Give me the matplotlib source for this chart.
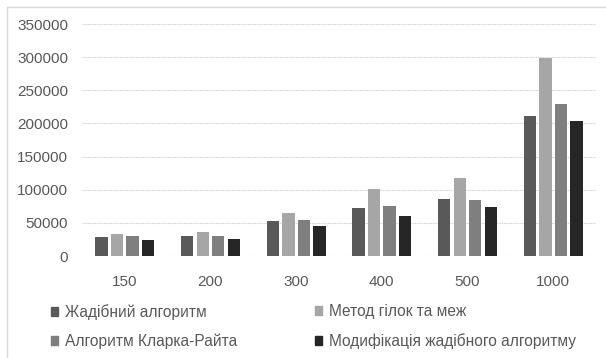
import numpy as np
import matplotlib
matplotlib.use('Agg')
import matplotlib.pyplot as plt
from matplotlib.patches import Rectangle, Patch

plt.rcParams['font.family'] = ['Liberation Sans', 'DejaVu Sans']

sizes = ['150', '200', '300', '400', '500', '1000']
series = ['Жадібний алгоритм', 'Метод гілок та меж',
          'Алгоритм Кларка-Райта', 'Модифікація жадібного алгоритму']
greedy = [28200, 30200, 52300, 72400, 86500, 210700]
branch_bound = [33200, 36200, 64900, 100600, 118200, 298700]
clarke_wright = [30200, 30200, 53800, 75900, 85000, 229800]
greedy_mod = [23700, 25200, 45800, 59900, 73900, 203200]
yticks = [0, 50000, 100000, 150000, 200000, 250000, 300000, 350000]

colors = ['#595959', '#a6a6a6', '#7f7f7f', '#262626']
txt = '#595959'

W, H = 606, 358
fig = plt.figure(figsize=(W / 100, H / 100), dpi=100)

# chart frame (only top/left edges visible)
fig.patches.append(Rectangle((7 / W, -0.1), 1.2, 1 - 7 / H + 0.1,
                             transform=fig.transFigure, fill=False,
                             edgecolor='#d9d9d9', linewidth=1.0))

ax = fig.add_axes([82 / W, 1 - 256 / H, 514 / W, 232 / H])
x = np.arange(len(sizes))
pitch, width = 0.182, 0.144
for i, vals in enumerate([greedy, branch_bound, clarke_wright, greedy_mod]):
    ax.bar(x + (i - 1.5) * pitch, vals, width, color=colors[i], zorder=3)

ax.set_xlim(-0.5, 5.5)
ax.set_ylim(0, 350000)
ax.set_yticks(yticks)
ax.set_yticklabels([str(v) for v in yticks])
ax.set_xticks(x)
ax.set_xticklabels(sizes)
ax.grid(axis='y', color='#d4d4d4', linewidth=0.8, linestyle=(0, (1, 0.6)), zorder=0)
for s in ax.spines.values():
    s.set_visible(False)
ax.tick_params(length=0, colors=txt, labelsize=11)
ax.tick_params(axis='y', pad=10)
ax.tick_params(axis='x', pad=14)

handles = [Patch(color=c) for c in colors]
common = dict(frameon=False, fontsize=11.2, handlelength=0.48, handleheight=0.48,
              handletextpad=0.4, labelspacing=0.9, borderpad=0, borderaxespad=0,
              labelcolor=txt, loc='upper left')
leg1 = fig.legend([handles[0], handles[2]], [series[0], series[2]],
                  bbox_to_anchor=(51 / W, 1 - 304 / H), **common)
leg2 = fig.legend([handles[1], handles[3]], [series[1], series[3]],
                  bbox_to_anchor=(315 / W, 1 - 304 / H), **common)

fig.savefig('out.png', dpi=100)
